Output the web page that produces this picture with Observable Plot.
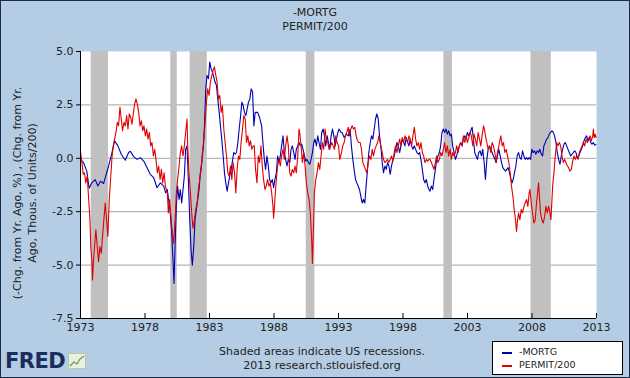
<!DOCTYPE html>
<html><head><meta charset="utf-8">
<script src="https://cdn.jsdelivr.net/npm/d3@7"></script>
<script src="https://cdn.jsdelivr.net/npm/@observablehq/plot@0.6"></script>
<style>
body{margin:0;padding:0;}
#fig{position:relative;width:630px;height:378px;background:#b5cde4;overflow:hidden;font-family:"DejaVu Sans",Verdana,sans-serif;color:#222;}
#border{position:absolute;left:0;top:0;width:630px;height:378px;box-sizing:border-box;border:1px solid #1c2c4c;pointer-events:none;}
.t{position:absolute;left:0;width:630px;text-align:center;font-size:11px;line-height:14px;}
#ylab{position:absolute;left:25px;top:193px;transform:translate(-50%,-50%) rotate(-90deg);text-align:center;white-space:nowrap;font-size:11px;line-height:15px;}
#chart{position:absolute;left:0;top:40px;}
#legend{position:absolute;left:492px;top:341px;width:131px;height:34px;box-sizing:border-box;background:#fff;border:1px solid #000;font-size:9.5px;}
.li{position:absolute;left:26px;line-height:12px;}
.sw{position:absolute;left:9px;width:10px;height:2px;}
#logo{position:absolute;left:5px;top:349px;font-size:21px;font-weight:bold;color:#1b2d5c;letter-spacing:-0.5px;}
</style></head>
<body>
<div id="fig">
  <div class="t" style="top:6px">-MORTG</div>
  <div class="t" style="top:20px">PERMIT/200</div>
  <div id="ylab">(-Chg. from Yr. Ago, %) , (Chg. from Yr.<br>Ago, Thous. of Units/200)</div>
  <div id="chart"></div>
  <div class="t" style="top:345px;left:7px">Shaded areas indicate US recessions.</div>
  <div class="t" style="top:359px;left:7px">2013 research.stlouisfed.org</div>
  <div id="logo">FRED<svg width="18" height="16" style="margin-left:3px;vertical-align:-1px"><rect x="0.5" y="0.5" width="17" height="15" fill="#e8f0e0" stroke="#b8c8b0"/><polyline points="2,13 6,9 9,11 12,6 16,3" fill="none" stroke="#6a9a50" stroke-width="1.2"/></svg></div>
  <div id="legend">
    <div class="sw" style="top:10px;background:#0000b4"></div><div class="li" style="top:4px">-MORTG</div>
    <div class="sw" style="top:23px;background:#e00000"></div><div class="li" style="top:17px">PERMIT/200</div>
  </div>
  <div id="border"></div>
</div>
<script>
const xTicks = [1973,1978,1983,1988,1993,1998,2003,2008,2013];
const yTicks = [5,2.5,0,-2.5,-5,-7.5];
const gridValues = [2.5,0,-2.5,-5];
const recessionStart = [1973.83,1980.0,1981.5,1990.5,2001.17,2007.92];
const recessionEnd   = [1975.17,1980.5,1982.83,1991.17,2001.83,2009.5];

// -MORTG : [year, value]
const mortg = [
[1973.00,-0.05],[1973.23,-0.20],[1973.49,-0.60],[1973.67,-1.40],[1973.88,-1.15],[1974.14,-1.00],[1974.35,-1.30],[1974.55,-1.07],[1974.79,-1.18],[1974.92,-0.90],
[1975.18,-0.36],[1975.44,0.27],[1975.64,0.82],[1975.90,0.58],[1976.16,0.19],[1976.47,-0.09],[1976.73,0.27],[1976.86,0.33],[1977.12,0.08],[1977.38,-0.05],
[1977.64,0.03],[1977.90,-0.13],[1978.16,-0.44],[1978.41,-0.75],[1978.67,-0.90],[1978.93,-1.38],[1979.19,-1.15],[1979.45,-1.30],
[1979.60,-1.62],[1979.73,-1.46],[1979.86,-2.09],[1979.96,-2.56],[1980.07,-3.50],[1980.17,-4.76],[1980.25,-5.86],[1980.33,-4.13],[1980.43,-2.25],[1980.53,-1.30],
[1980.64,-1.93],[1980.74,-1.46],[1980.84,-2.09],[1980.95,-1.46],[1981.05,-0.83],[1981.15,0.42],[1981.26,0.58],[1981.36,-0.99],[1981.47,-2.88],[1981.57,-4.29],
[1981.67,-5.00],[1981.78,-4.13],[1981.88,-2.88],[1981.98,-2.40],[1982.09,-1.93],[1982.19,-1.46],[1982.29,-0.68],[1982.40,-0.20],[1982.50,0.42],[1982.61,1.52],
[1982.71,3.25],[1982.81,3.88],[1982.92,3.73],[1983.02,4.51],[1983.12,4.20],[1983.23,4.04],[1983.33,3.80],[1983.43,3.57],[1983.54,3.41],[1983.64,2.78],
[1983.75,2.15],[1983.85,1.52],[1983.95,0.90],[1984.06,0.11],[1984.16,-0.68],[1984.26,-1.15],[1984.37,-1.54],[1984.47,-1.15],[1984.57,-0.83],[1984.68,-0.52],
[1984.78,-0.13],[1984.88,0.27],[1984.99,0.19],[1985.09,0.27],[1985.20,0.74],[1985.30,1.37],[1985.40,1.92],[1985.51,2.63],[1985.61,2.47],[1985.71,2.15],
[1985.82,2.00],[1985.92,2.31],[1986.02,2.63],[1986.13,2.78],[1986.23,3.25],[1986.34,3.10],[1986.44,1.52],[1986.54,2.15],
[1986.73,2.15],[1986.88,1.92],[1987.04,1.52],[1987.14,0.74],[1987.25,-0.05],[1987.35,-0.52],[1987.45,0.11],[1987.56,-0.36],[1987.66,-0.99],[1987.76,-1.15],
[1987.87,-0.99],[1987.97,-1.38],[1988.07,-0.99],[1988.18,-0.68],[1988.28,0.11],[1988.39,-0.20],[1988.49,0.11],[1988.59,0.58],[1988.70,1.05],[1988.80,0.27],
[1988.90,-0.05],[1989.01,-0.36],[1989.11,-0.05],[1989.22,-0.20],[1989.32,0.42],[1989.42,0.58],[1989.53,0.27],[1989.63,-0.05],[1989.73,0.42],[1989.84,0.58],
[1989.94,0.74],[1990.04,0.58],[1990.15,0.66],[1990.25,0.42],[1990.36,0.11],[1990.46,-0.13],[1990.56,-0.05],[1990.67,-0.20],[1990.77,-0.28],[1990.87,-0.05],
[1990.98,0.27],[1991.08,0.74],[1991.18,0.90],[1991.29,0.58],[1991.39,1.05],[1991.49,0.74],[1991.60,0.42],[1991.70,1.21],[1991.81,1.37],[1991.91,1.05],
[1992.01,0.58],[1992.12,1.05],[1992.22,0.74],[1992.32,0.42],[1992.43,1.05],[1992.53,1.37],[1992.64,1.05],[1992.74,0.58],[1992.84,0.90],[1992.95,1.21],
[1993.05,1.37],[1993.20,1.21],[1993.28,1.21],[1993.44,0.97],[1993.59,1.13],[1993.75,1.05],[1993.90,1.37],[1994.00,0.58],[1994.11,-0.05],[1994.21,-0.52],
[1994.32,-0.99],[1994.42,-1.15],[1994.52,-1.30],[1994.63,-1.46],[1994.73,-1.78],[1994.83,-2.09],[1994.94,-1.93],[1995.04,-2.09],[1995.14,-1.30],[1995.25,-0.52],
[1995.35,0.27],[1995.46,0.74],[1995.56,1.05],[1995.66,0.90],[1995.77,1.37],[1995.87,1.84],[1995.97,2.08],[1996.08,1.84],[1996.18,1.05],[1996.28,0.58],
[1996.39,-0.20],[1996.49,-0.68],[1996.60,-0.36],[1996.70,-0.52],[1996.80,-0.20],[1996.91,-0.36],[1997.01,-0.75],[1997.11,-0.36],[1997.22,-0.05],[1997.32,0.11],
[1997.42,0.42],[1997.53,0.74],[1997.63,0.58],[1997.74,0.27],[1997.84,0.58],[1997.94,0.90],[1998.05,0.74],[1998.15,0.58],[1998.25,0.97],[1998.36,0.74],
[1998.46,0.58],[1998.56,0.90],[1998.67,0.58],[1998.77,0.42],[1998.88,0.58],[1998.98,0.42],[1999.08,0.27],[1999.19,0.19],[1999.29,0.27],[1999.39,-0.05],
[1999.50,-0.52],[1999.60,-0.99],[1999.70,-1.15],[1999.81,-0.99],[1999.91,-1.30],[2000.02,-1.46],[2000.09,-1.54],[2000.20,-1.30],[2000.30,-1.46],[2000.40,-0.99],
[2000.51,-0.52],[2000.61,-0.05],[2000.71,0.11],[2000.82,0.27],[2000.92,0.58],[2001.02,1.21],[2001.13,1.37],[2001.23,1.21],[2001.33,1.37],[2001.44,1.13],
[2001.54,1.29],[2001.65,1.05],[2001.75,1.13],[2001.85,0.58],[2001.96,0.27],[2002.06,-0.05],[2002.16,0.11],[2002.27,0.42],[2002.37,0.58],[2002.47,0.74],
[2002.58,0.58],[2002.68,0.90],[2002.79,1.05],[2002.89,0.90],[2002.99,1.21],[2003.10,1.05],[2003.20,1.21],[2003.30,1.37],[2003.36,1.45],[2003.46,0.90],
[2003.56,0.27],[2003.67,0.11],[2003.77,-0.05],[2003.87,0.27],[2003.98,0.35],[2004.08,0.11],[2004.18,0.42],[2004.29,-0.20],[2004.39,-0.99],[2004.50,-0.05],
[2004.60,0.42],[2004.70,0.58],[2004.81,0.42],[2004.91,0.27],[2005.01,0.11],[2005.12,-0.05],[2005.22,-0.20],[2005.32,0.11],[2005.43,0.42],[2005.53,0.11],
[2005.64,-0.20],[2005.74,-0.44],[2005.84,-0.52],[2005.95,-0.60],[2006.05,-0.52],[2006.15,-0.44],[2006.26,-0.68],[2006.36,-0.99],[2006.46,-1.15],[2006.57,-0.90],
[2006.64,-0.68],[2006.75,-0.36],[2006.85,0.11],[2006.96,0.27],[2007.06,0.03],[2007.16,-0.05],[2007.27,0.35],[2007.37,0.11],[2007.47,-0.05],[2007.58,0.03],
[2007.68,-0.05],[2007.78,0.03],[2007.89,-0.05],[2007.99,0.42],[2008.09,0.27],[2008.20,0.35],[2008.30,0.19],[2008.41,0.35],[2008.51,0.27],[2008.61,0.42],
[2008.72,0.19],[2008.82,0.11],[2008.92,0.58],[2009.03,0.74],[2009.13,0.90],[2009.24,0.97],[2009.34,1.13],[2009.44,1.21],[2009.55,1.29],[2009.65,1.21],
[2009.75,1.05],[2009.86,0.74],[2009.96,0.27],[2010.06,-0.05],[2010.17,-0.28],[2010.27,0.11],[2010.37,0.42],[2010.48,0.66],[2010.58,0.74],[2010.69,0.58],
[2010.79,0.42],[2010.89,0.27],[2011.00,0.11],[2011.10,0.19],[2011.20,0.27],[2011.31,0.35],[2011.41,0.27],[2011.51,0.03],[2011.62,0.11],[2011.72,0.27],
[2011.83,0.42],[2011.93,0.58],[2012.03,0.82],[2012.14,0.97],[2012.24,1.05],[2012.34,0.82],[2012.45,0.97],[2012.55,0.74],[2012.65,0.66],[2012.76,0.74],
[2012.86,0.61],[2012.96,0.64]
];

// PERMIT/200 : [year, value]
const permit = [
[1973.00,0.30],[1973.10,-0.13],[1973.21,-0.75],[1973.31,-0.68],[1973.41,-1.15],[1973.52,-0.83],[1973.62,-1.78],[1973.73,-2.88],[1973.80,-4.13],[1973.88,-4.76],
[1973.93,-5.70],[1974.01,-4.76],[1974.09,-4.13],[1974.19,-3.35],[1974.30,-4.13],[1974.40,-4.84],[1974.50,-4.13],[1974.61,-4.45],[1974.71,-3.66],[1974.81,-2.88],
[1974.92,-2.09],[1975.02,-2.88],[1975.12,-3.66],[1975.23,-1.93],[1975.33,-0.99],[1975.44,0.03],[1975.54,0.58],[1975.64,0.90],[1975.75,1.21],[1975.85,1.68],
[1975.95,1.52],[1976.06,2.39],[1976.16,1.84],[1976.26,1.29],[1976.37,1.68],[1976.47,1.52],[1976.58,2.00],[1976.68,1.37],[1976.78,2.08],[1976.89,1.92],
[1976.99,1.60],[1977.09,2.08],[1977.20,2.55],[1977.30,2.78],[1977.40,2.55],[1977.51,2.15],[1977.61,1.52],[1977.72,1.76],[1977.82,1.29],[1977.92,1.52],
[1978.03,1.05],[1978.13,1.37],[1978.23,0.90],[1978.34,1.21],[1978.44,0.58],[1978.54,0.74],[1978.65,0.11],[1978.75,0.42],[1978.85,-0.05],[1978.96,-0.68],
[1979.06,-0.36],[1979.17,-0.99],[1979.27,-0.52],[1979.37,-1.15],[1979.48,-0.68],[1979.58,-1.30],
[1979.73,-1.62],[1979.81,-2.56],[1979.91,-1.93],[1980.01,-2.72],[1980.12,-3.50],[1980.22,-3.98],[1980.33,-2.88],[1980.43,-1.62],[1980.53,-0.99],[1980.64,-0.36],
[1980.74,0.27],[1980.84,0.58],[1980.95,0.11],[1981.05,0.58],[1981.15,1.21],[1981.26,1.84],[1981.31,0.58],[1981.41,-0.68],[1981.52,-1.62],[1981.62,-2.56],
[1981.72,-3.27],[1981.83,-2.88],[1981.93,-2.40],[1982.04,-2.09],[1982.14,-1.46],[1982.24,-0.99],[1982.35,-0.52],[1982.45,0.27],[1982.55,0.74],[1982.66,1.68],
[1982.76,2.63],[1982.86,3.25],[1982.97,2.94],[1983.07,3.57],[1983.18,3.88],[1983.28,4.12],[1983.38,4.28],[1983.49,3.88],[1983.59,3.57],[1983.69,2.78],
[1983.80,2.94],[1983.90,2.15],[1984.00,2.47],[1984.11,1.37],[1984.21,0.74],[1984.32,0.11],[1984.42,-0.68],[1984.52,-0.83],[1984.63,-0.36],[1984.73,-0.99],
[1984.83,-0.20],[1984.94,-0.68],[1985.04,-1.62],[1985.14,-0.52],[1985.25,0.11],[1985.35,-0.05],[1985.45,0.74],[1985.56,1.37],[1985.66,2.00],[1985.77,1.84],
[1985.87,0.74],[1985.97,1.05],[1986.08,0.58],[1986.18,0.82],[1986.28,0.42],[1986.39,0.58],
[1986.47,0.58],[1986.57,-0.52],[1986.68,-1.15],[1986.78,0.11],[1986.88,-0.20],[1986.99,0.58],[1987.09,-0.36],[1987.19,-0.99],[1987.30,-1.46],[1987.40,-1.30],
[1987.50,-0.99],[1987.61,-1.30],[1987.71,-1.15],[1987.82,-1.62],[1987.92,-2.25],[1987.97,-2.80],[1988.07,-1.93],[1988.18,-0.99],[1988.28,-0.36],[1988.39,-0.05],
[1988.49,-0.36],[1988.59,0.11],[1988.70,0.42],[1988.80,-0.05],[1988.90,0.58],[1989.01,1.05],[1989.11,0.58],[1989.22,-0.68],[1989.32,-0.83],[1989.42,-0.52],
[1989.53,-0.68],[1989.63,-0.36],[1989.73,-0.68],[1989.84,0.11],[1989.94,1.37],[1989.99,1.21],[1990.10,0.58],[1990.20,-0.20],[1990.30,0.27],[1990.41,-0.36],
[1990.51,-1.15],[1990.61,-1.62],[1990.72,-1.93],[1990.82,-2.56],[1990.92,-3.82],[1990.98,-4.92],[1991.05,-3.50],[1991.13,-1.62],[1991.24,-0.99],[1991.34,-0.68],
[1991.44,-0.20],[1991.55,-0.52],[1991.65,0.11],[1991.75,0.74],[1991.86,0.42],[1991.96,1.37],[1992.06,0.90],[1992.17,0.74],[1992.27,0.42],[1992.38,0.58],
[1992.48,0.74],[1992.58,0.58],[1992.69,0.42],[1992.79,1.05],[1992.89,0.74],[1993.00,0.58],[1993.10,-0.05],
[1993.23,0.27],[1993.33,0.58],[1993.44,0.74],[1993.54,1.05],[1993.64,1.21],[1993.75,1.45],[1993.85,1.05],[1993.95,1.37],[1994.06,1.52],[1994.16,1.37],
[1994.26,1.45],[1994.37,1.05],[1994.47,0.82],[1994.57,0.74],[1994.68,0.74],[1994.78,0.42],[1994.89,-0.20],[1994.99,-0.36],[1995.09,-0.52],[1995.20,-0.68],
[1995.30,-0.20],[1995.40,0.11],[1995.51,-0.05],[1995.61,0.42],[1995.71,0.11],[1995.82,0.42],[1995.92,0.58],[1996.03,0.74],[1996.13,1.05],[1996.18,0.90],
[1996.28,0.58],[1996.39,0.27],[1996.49,-0.05],[1996.60,-0.20],[1996.70,-0.13],[1996.80,-0.05],[1996.91,-0.20],[1997.01,-0.05],[1997.11,0.11],[1997.22,-0.13],
[1997.32,0.27],[1997.42,0.58],[1997.53,0.27],[1997.63,0.58],[1997.74,0.90],[1997.84,0.58],[1997.94,0.97],[1998.05,0.74],[1998.15,1.05],[1998.25,0.90],
[1998.36,0.74],[1998.46,1.05],[1998.56,0.90],[1998.67,0.58],[1998.77,1.05],[1998.88,1.45],[1998.98,0.90],[1999.08,0.58],[1999.19,0.74],[1999.29,0.42],
[1999.39,0.74],[1999.50,0.27],[1999.60,0.11],[1999.70,-0.20],[1999.81,-0.05],[1999.91,-0.13],[2000.02,-0.05],
[2000.09,-0.05],[2000.20,-0.20],[2000.30,-0.36],[2000.40,-0.52],[2000.51,-0.20],[2000.61,0.11],[2000.71,-0.20],[2000.82,-0.05],[2000.92,0.27],[2001.02,0.11],
[2001.13,0.42],[2001.23,0.74],[2001.33,0.27],[2001.44,0.58],[2001.54,0.11],[2001.65,0.42],[2001.75,-0.05],[2001.85,0.27],[2001.96,0.11],[2002.06,0.27],
[2002.16,0.58],[2002.27,0.27],[2002.37,0.58],[2002.47,0.74],[2002.58,0.58],[2002.68,1.05],[2002.79,0.74],[2002.89,1.05],[2002.99,0.74],[2003.10,0.97],
[2003.20,1.21],[2003.30,1.05],[2003.41,0.58],[2003.51,1.13],[2003.61,0.90],[2003.72,0.58],[2003.82,1.21],[2003.93,0.90],[2004.03,0.58],[2004.13,1.05],
[2004.24,1.52],[2004.31,1.37],[2004.39,1.05],[2004.50,0.74],[2004.60,0.42],[2004.70,0.58],[2004.81,0.27],[2004.91,0.74],[2005.01,0.58],[2005.12,0.27],
[2005.22,-0.20],[2005.32,0.27],[2005.43,0.58],[2005.53,0.90],[2005.58,1.05],[2005.69,0.58],[2005.79,0.74],[2005.89,0.27],[2006.00,0.42],[2006.10,0.11],
[2006.21,-0.20],[2006.31,-0.68],[2006.41,-1.30],[2006.52,-1.78],[2006.62,-2.40],
[2006.72,-2.88],[2006.80,-3.43],[2006.88,-2.88],[2006.96,-2.56],[2007.06,-2.88],[2007.16,-2.40],[2007.27,-2.56],[2007.37,-2.25],[2007.47,-2.09],[2007.58,-1.93],
[2007.68,-2.25],[2007.78,-1.62],[2007.84,-1.46],[2007.94,-2.09],[2008.04,-2.56],[2008.15,-3.03],[2008.25,-2.88],[2008.35,-2.09],[2008.46,-1.46],[2008.51,-1.15],
[2008.59,-1.93],[2008.66,-2.56],[2008.77,-2.88],[2008.87,-3.03],[2008.98,-2.72],[2009.08,-2.25],[2009.18,-2.56],[2009.29,-2.25],[2009.39,-2.56],[2009.47,-2.88],
[2009.52,-2.25],[2009.60,-1.30],[2009.70,-0.68],[2009.80,0.11],[2009.91,0.74],[2010.01,0.58],[2010.12,0.74],[2010.22,0.58],[2010.32,0.11],[2010.43,-0.20],
[2010.53,-0.05],[2010.63,-0.20],[2010.74,-0.36],[2010.84,-0.44],[2010.94,-0.60],[2011.05,-0.52],[2011.15,-0.13],[2011.26,0.11],[2011.36,-0.05],[2011.46,0.11],
[2011.57,-0.05],[2011.67,0.27],[2011.77,0.42],[2011.88,0.58],[2011.98,0.74],[2012.08,0.58],[2012.19,0.90],[2012.29,0.74],[2012.40,0.90],[2012.50,1.05],
[2012.60,0.82],[2012.71,1.05],[2012.76,1.37],[2012.81,0.97],[2012.89,1.13],[2012.97,0.97]
];

const recessions = recessionStart.map((s, i) => ({start: s, end: recessionEnd[i]}));

const chart = Plot.plot({
  width: 630, height: 295,
  marginLeft: 80, marginRight: 34, marginTop: 11, marginBottom: 17,
  style: {background: "transparent", fontFamily: "'DejaVu Sans', Verdana, sans-serif", fontSize: "11px", color: "#222", overflow: "visible"},
  x: {domain: [1973, 2013]},
  y: {domain: [-7.5, 5]},
  marks: [
    Plot.frame({fill: "white", stroke: "none"}),
    Plot.ruleY(gridValues, {stroke: "#a3a3a3", strokeWidth: 1}),
    Plot.rect(recessions, {x1: "start", x2: "end", fill: "#c0c0c0"}),
    Plot.line(mortg, {x: d => d[0], y: d => d[1], stroke: "#0000b4", strokeWidth: 1.1}),
    Plot.line(permit, {x: d => d[0], y: d => d[1], stroke: "#e00000", strokeWidth: 1.1}),
    Plot.ruleX([1973], {stroke: "#000"}),
    Plot.ruleY([-7.5], {stroke: "#000"}),
    Plot.tickX(xTicks, {x: d => d, stroke: "#000", insetTop: 262}),
    Plot.axisY(yTicks, {tickSize: 4, tickPadding: 3, tickFormat: d => d.toFixed(1), label: null, stroke: "#000"}),
    Plot.axisX(xTicks, {tickSize: 0, tickPadding: 5, tickFormat: d => String(d), label: null})
  ]
});
document.getElementById("chart").appendChild(chart);
</script>
</body></html>
